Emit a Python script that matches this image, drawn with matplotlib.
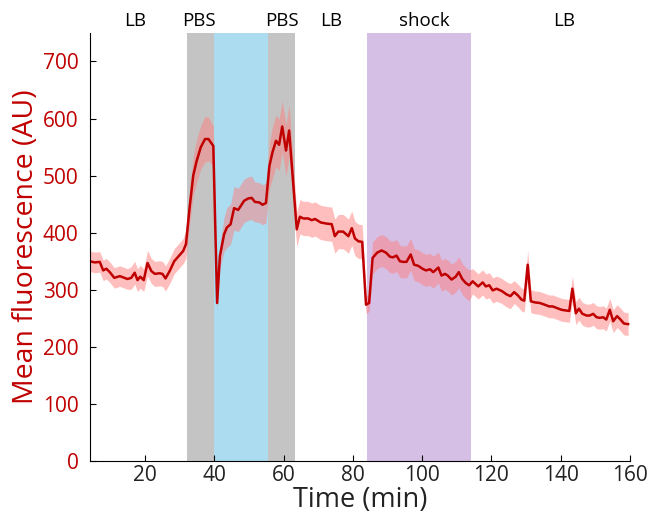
import matplotlib
matplotlib.use('Agg')
import matplotlib.pyplot as plt
import numpy as np

plt.rcParams['font.family'] = ['Open Sans', 'DejaVu Sans']

# time points (min), mean fluorescence (AU) and its error band
time = [
    4.0, 5.5, 6.9, 7.9, 8.8, 9.8, 11.1, 12.7, 13.6, 14.9,
    16.0, 17.0, 17.8, 18.6, 19.6, 20.7, 21.8, 22.8, 24.2, 25.0,
    25.9, 27.1, 28.4, 29.7, 31.0, 31.8, 32.8, 33.9, 34.9, 36.1,
    37.3, 38.3, 39.7, 40.8, 41.6, 42.8, 43.6, 44.7, 45.7, 46.9,
    48.6, 49.8, 50.8, 51.7, 53.0, 53.9, 54.9, 55.9, 56.8, 57.8,
    58.7, 59.6, 60.7, 61.6, 63.8, 64.7, 65.7, 67.1, 68.1, 69.1,
    70.7, 72.4, 73.9, 74.8, 75.8, 77.2, 78.7, 79.7, 80.6, 81.6,
    82.7, 83.8, 84.7, 85.7, 87.0, 88.3, 89.6, 90.7, 91.6, 92.6,
    93.6, 94.5, 95.5, 96.7, 97.7, 98.9, 100.1, 101.1, 102.3, 103.2,
    104.7, 105.6, 106.6, 107.4, 108.5, 109.7, 110.6, 111.6, 112.6, 113.6,
    114.6, 116.2, 117.5, 118.4, 119.4, 120.4, 121.5, 123.0, 124.4, 125.5,
    126.6, 127.7, 128.7, 129.5, 130.5, 131.4, 132.6, 134.0, 135.4, 136.7,
    137.7, 139.0, 140.3, 141.5, 142.5, 143.4, 144.4, 145.3, 146.3, 147.5,
    148.4, 149.4, 150.4, 151.3, 152.3, 153.2, 154.2, 155.2, 156.3, 157.3,
    158.3, 159.5,
]
mean = [
    350, 348, 349, 334, 337, 331, 321, 324, 322, 319,
    321, 330, 317, 323, 317, 347, 333, 328, 329, 328,
    320, 333, 350, 359, 368, 380, 441, 500, 526, 550,
    564, 564, 552, 277, 359, 397, 409, 415, 443, 440,
    456, 460, 461, 454, 453, 449, 452, 517, 541, 561,
    554, 586, 544, 579, 406, 428, 425, 425, 422, 424,
    418, 416, 415, 394, 402, 402, 394, 408, 390, 385,
    384, 274, 277, 356, 365, 369, 365, 358, 357, 360,
    350, 349, 349, 362, 344, 342, 337, 334, 336, 331,
    339, 325, 328, 325, 318, 323, 331, 319, 312, 308,
    315, 306, 313, 306, 308, 299, 302, 298, 292, 289,
    296, 290, 283, 281, 344, 280, 278, 277, 274, 271,
    271, 268, 265, 264, 263, 302, 259, 267, 258, 255,
    255, 258, 252, 251, 252, 248, 265, 245, 254, 248,
    241, 240,
]
sem = [
    18, 18, 18, 18, 18, 18, 18, 18, 18, 18,
    20, 20, 20, 20, 20, 22, 22, 22, 22, 22,
    22, 22, 22, 22, 22, 25, 30, 35, 38, 38,
    40, 38, 35, 12, 20, 30, 35, 35, 38, 38,
    38, 38, 38, 35, 35, 35, 35, 40, 45, 45,
    45, 45, 45, 45, 30, 30, 30, 30, 30, 30,
    30, 30, 30, 30, 30, 30, 30, 30, 30, 30,
    30, 15, 15, 28, 28, 28, 28, 28, 28, 28,
    28, 28, 28, 28, 28, 28, 28, 28, 28, 28,
    27, 27, 27, 27, 27, 27, 27, 27, 27, 27,
    22, 22, 22, 22, 22, 22, 22, 22, 22, 22,
    20, 20, 20, 20, 25, 20, 20, 20, 20, 20,
    20, 20, 20, 20, 20, 22, 20, 20, 20, 20,
    20, 20, 20, 20, 20, 20, 20, 20, 20, 20,
    20, 20,
]

# condition periods (start, end, colour) and the labels above them
periods = [(32, 40, '#c4c4c4'), (40, 55.5, '#acdcef'), (55.5, 63.2, '#c4c4c4'), (84, 114, '#d5bfe5')]
label_x = [17, 35.6, 59.4, 73.7, 100.5, 141]
label_txt = ['LB', 'PBS', 'PBS', 'LB', 'shock', 'LB']

red = '#c00000'

fig = plt.figure(figsize=(6.5, 5.13), dpi=100)
ax = fig.add_axes([0.138, 0.101, 0.831, 0.835])

for x0, x1, c in periods:
    ax.axvspan(x0, x1, color=c, lw=0, zorder=0)

t = np.array(time)
m = np.array(mean)
s = np.array(sem)
ax.fill_between(t, m - s, m + s, color='#ff7f7f', alpha=0.5, lw=0, zorder=1)
ax.plot(t, m, color=red, lw=1.8, zorder=2)

for x, txt in zip(label_x, label_txt):
    ax.text(x, 1.027, txt, transform=ax.get_xaxis_transform(), ha='center', va='center', fontsize=13.5)

ax.set_xlim(4, 160)
ax.set_ylim(0, 750)
ax.set_xticks([20, 40, 60, 80, 100, 120, 140, 160])
ax.set_yticks(range(0, 800, 100))
ax.tick_params(direction='in', labelsize=15, length=4)
ax.tick_params(axis='y', labelcolor=red, pad=8)
ax.tick_params(axis='x', labelcolor='#222222', pad=3)
for side in ['top', 'right']:
    ax.spines[side].set_visible(False)
ax.set_xlabel('Time (min)', fontsize=19.5, color='#222222', labelpad=0)
ax.set_ylabel('Mean fluorescence (AU)', fontsize=20.5, color=red, labelpad=2)

fig.savefig('out.png', dpi=100)
